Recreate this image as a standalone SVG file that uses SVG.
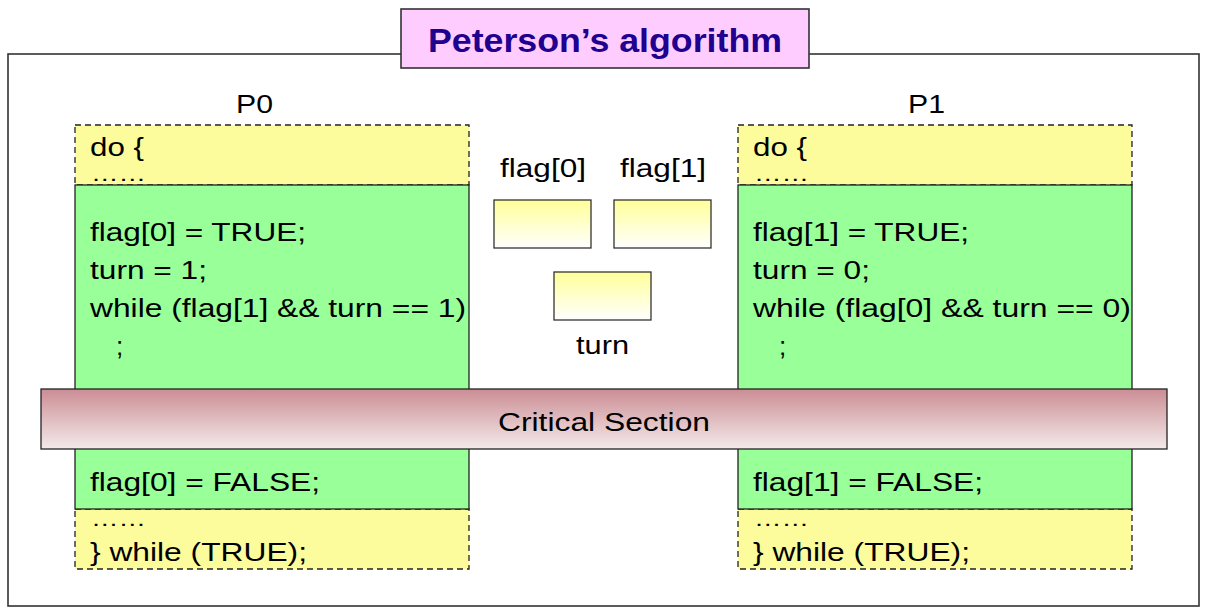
<svg xmlns="http://www.w3.org/2000/svg" width="1207" height="613" viewBox="0 0 1207 613">
<defs>
<linearGradient id="gVar" x1="0" y1="0" x2="0" y2="1">
<stop offset="0" stop-color="#FFFF99"/>
<stop offset="1" stop-color="#FFFFFF"/>
</linearGradient>
<linearGradient id="gCrit" x1="0" y1="0" x2="0" y2="1">
<stop offset="0" stop-color="#CB8D94"/>
<stop offset="1" stop-color="#F4EAEA"/>
</linearGradient>
</defs>
<style>
text{font-family:"Liberation Sans",Arial,sans-serif;font-size:26px;fill:#000}
.dots{font-size:21px}
.yel{fill:#FCFC9C;stroke:#222;stroke-width:1.3;stroke-dasharray:6 4}
.grn{fill:#99FF99;stroke:#222;stroke-width:1.3}
.var{fill:url(#gVar);stroke:#333;stroke-width:1.3}
.title{font-weight:bold;font-size:34px;fill:#20008F}
</style>
<rect width="1207" height="613" fill="#FFFFFF"/>
<g id="frame"><rect x="8" y="54" width="1191" height="552" fill="none" stroke="#333" stroke-width="1.6"/></g>
<g id="title">
<rect x="401" y="9" width="408" height="59" fill="#FFCCFF" stroke="#333" stroke-width="1.6"/>
<text class="title" x="428" y="52" textLength="354" lengthAdjust="spacingAndGlyphs">Peterson’s algorithm</text>
</g>
<g id="p0">
<text x="236" y="113" textLength="37" lengthAdjust="spacingAndGlyphs">P0</text>
<rect class="yel" x="75" y="125" width="394" height="60"/>
<rect class="yel" x="75" y="509" width="394" height="60"/>
<rect class="grn" x="75" y="185" width="394" height="324"/>
<text x="90" y="156" textLength="54" lengthAdjust="spacingAndGlyphs">do {</text>
<text class="dots" x="91" y="181" textLength="55" lengthAdjust="spacingAndGlyphs">……</text>
<text x="90" y="241" textLength="216" lengthAdjust="spacingAndGlyphs">flag[0] = TRUE;</text>
<text x="90" y="279" textLength="117" lengthAdjust="spacingAndGlyphs">turn = 1;</text>
<text x="90" y="317" textLength="376" lengthAdjust="spacingAndGlyphs">while (flag[1] &amp;&amp; turn == 1)</text>
<text x="116" y="355">;</text>
<text x="90" y="491" textLength="230" lengthAdjust="spacingAndGlyphs">flag[0] = FALSE;</text>
<text class="dots" x="91" y="526" textLength="55" lengthAdjust="spacingAndGlyphs">……</text>
<text x="90" y="561" textLength="217" lengthAdjust="spacingAndGlyphs">} while (TRUE);</text>
</g>
<g id="p1">
<text x="908" y="113" textLength="37" lengthAdjust="spacingAndGlyphs">P1</text>
<rect class="yel" x="738" y="125" width="394" height="60"/>
<rect class="yel" x="738" y="509" width="394" height="60"/>
<rect class="grn" x="738" y="185" width="394" height="324"/>
<text x="753" y="156" textLength="54" lengthAdjust="spacingAndGlyphs">do {</text>
<text class="dots" x="754" y="181" textLength="55" lengthAdjust="spacingAndGlyphs">……</text>
<text x="753" y="241" textLength="216" lengthAdjust="spacingAndGlyphs">flag[1] = TRUE;</text>
<text x="753" y="279" textLength="117" lengthAdjust="spacingAndGlyphs">turn = 0;</text>
<text x="753" y="317" textLength="378" lengthAdjust="spacingAndGlyphs">while (flag[0] &amp;&amp; turn == 0)</text>
<text x="779" y="355">;</text>
<text x="753" y="491" textLength="230" lengthAdjust="spacingAndGlyphs">flag[1] = FALSE;</text>
<text class="dots" x="754" y="526" textLength="55" lengthAdjust="spacingAndGlyphs">……</text>
<text x="753" y="561" textLength="217" lengthAdjust="spacingAndGlyphs">} while (TRUE);</text>
</g>
<g id="flag0">
<text x="500" y="177" textLength="86" lengthAdjust="spacingAndGlyphs">flag[0]</text>
<rect class="var" x="494" y="200" width="97" height="48"/>
</g>
<g id="flag1">
<text x="620" y="177" textLength="86" lengthAdjust="spacingAndGlyphs">flag[1]</text>
<rect class="var" x="614" y="200" width="97" height="48"/>
</g>
<g id="turn">
<rect class="var" x="554" y="272" width="97" height="48"/>
<text x="576" y="354" textLength="53" lengthAdjust="spacingAndGlyphs">turn</text>
</g>
<g id="critical">
<rect x="41" y="389" width="1126" height="60" fill="url(#gCrit)" stroke="#222" stroke-width="1.3"/>
<text x="498" y="431" textLength="212" lengthAdjust="spacingAndGlyphs">Critical Section</text>
</g>
<g id="connectors"/>
</svg>
